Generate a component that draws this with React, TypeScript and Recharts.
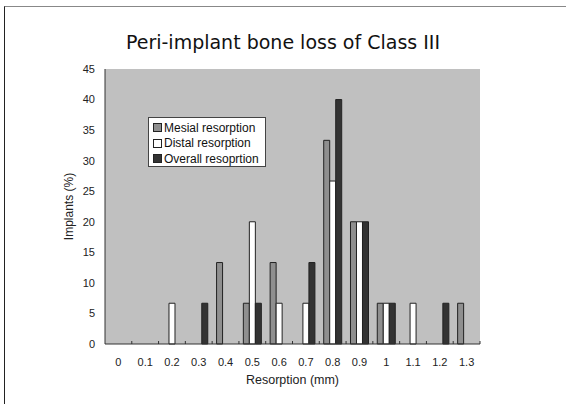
import React from 'react';
import { BarChart, Bar, XAxis, YAxis, CartesianGrid, Legend } from 'recharts';

const categories = ['0', '0.1', '0.2', '0.3', '0.4', '0.5', '0.6', '0.7', '0.8', '0.9', '1', '1.1', '1.2', '1.3'];
const mesial = [0, 0, 0, 0, 13.33, 6.67, 13.33, 0, 33.33, 20, 6.67, 0, 0, 6.67];
const distal = [0, 0, 6.67, 0, 0, 20, 6.67, 6.67, 26.67, 20, 6.67, 6.67, 0, 0];
const overall = [0, 0, 0, 6.67, 0, 6.67, 0, 13.33, 40, 20, 6.67, 0, 6.67, 0];
const yTicks = [0, 5, 10, 15, 20, 25, 30, 35, 40, 45];
const seriesNames = ['Mesial resorption', 'Distal resorption', 'Overall resoprtion'];
const title = 'Peri-implant bone loss of Class III';

const data = categories.map((c, i) => ({
  label: c,
  mesial: mesial[i],
  distal: distal[i],
  overall: overall[i],
}));

const FONT = '"Liberation Sans", Arial, sans-serif';

const XTick = (props: any) => {
  const { x, y, payload } = props;
  const half = payload && payload.offset ? payload.offset : 13.4;
  const axisY = y - 14;
  return (
    <g>
      <line x1={x + half} x2={x + half} y1={axisY} y2={axisY - 3} stroke="#333" strokeWidth={1} />
      <text x={x} y={y} dy="0.71em" textAnchor="middle" fontSize={11} fontFamily={FONT} fill="#222">
        {payload.value}
      </text>
    </g>
  );
};

const LegendBox = (props: any) => {
  const items = [...(props.payload || [])].sort(
    (a: any, b: any) => seriesNames.indexOf(a.value) - seriesNames.indexOf(b.value)
  );
  return (
    <div
      style={{
        background: '#fff',
        border: '1px solid #444',
        width: 118,
        height: 50,
        boxSizing: 'border-box',
        padding: '2px 0 0 4px',
        fontFamily: FONT,
        fontSize: 12,
        color: '#111',
        textAlign: 'left',
      }}
    >
      {items.map((p: any) => (
        <div key={p.value} style={{ display: 'flex', alignItems: 'center', height: 15.5, whiteSpace: 'nowrap' }}>
          <span
            style={{
              display: 'inline-block',
              width: 7,
              height: 7,
              background: p.color,
              border: '1px solid #222',
              marginRight: 2,
            }}
          />
          <span>{p.value}</span>
        </div>
      ))}
    </div>
  );
};

export default function App() {
  return (
    <div style={{ position: 'absolute', left: 0, top: 0, width: 566, height: 404, background: '#fff', overflow: 'hidden' }}>
      <div
        style={{
          position: 'absolute',
          left: 4,
          top: 6,
          width: 562,
          height: 398,
          boxSizing: 'border-box',
          borderTop: '1px solid #888',
          borderLeft: '1px solid #222',
        }}
      />
      <div
        style={{
          position: 'absolute',
          left: 0,
          top: 33,
          width: 566,
          textAlign: 'center',
          fontFamily: '"DejaVu Sans", sans-serif',
          fontSize: 19,
          lineHeight: '19px',
          color: '#111',
        }}
      >
        {title}
      </div>
      <div style={{ position: 'absolute', left: 0, top: 0 }}>
        <BarChart
          width={566}
          height={404}
          data={data}
          margin={{ top: 69, right: 86, bottom: 20, left: 65 }}
          barCategoryGap="16.5%"
          barGap={0}
        >
          <CartesianGrid horizontal={false} vertical={false} fill="#c0c0c0" stroke="none" />
          <XAxis
            dataKey="label"
            height={40}
            tick={<XTick />}
            tickLine={false}
            tickMargin={8}
            interval={0}
            axisLine={{ stroke: '#333' }}
            label={{
              value: 'Resorption (mm)',
              position: 'insideBottom',
              offset: 0,
              fontSize: 12.5,
              fontFamily: FONT,
              fill: '#222',
            }}
          />
          <XAxis xAxisId="top" orientation="top" dataKey="label" height={0} tick={false} tickLine={false} axisLine={{ stroke: '#888' }} />
          <YAxis
            domain={[0, 45]}
            ticks={yTicks}
            width={40}
            tickLine={false}
            tickMargin={4}
            interval={0}
            axisLine={{ stroke: '#333' }}
            tick={{ fontSize: 11, fontFamily: FONT, fill: '#222' }}
            label={{
              value: 'Implants (%)',
              angle: -90,
              position: 'insideLeft',
              offset: 4,
              fontSize: 12,
              fontFamily: FONT,
              fill: '#222',
              style: { textAnchor: 'middle' },
            }}
          />
          <YAxis yAxisId="right" orientation="right" width={0} tick={false} tickLine={false} axisLine={{ stroke: '#888' }} />
          <Legend
            layout="vertical"
            align="center"
            verticalAlign="middle"
            content={<LegendBox />}
            wrapperStyle={{ left: 148, top: 117, width: 118, height: 50 }}
          />
          <Bar dataKey="mesial" name={seriesNames[0]} fill="#8f8f8f" stroke="#222" strokeWidth={1} isAnimationActive={false} />
          <Bar dataKey="distal" name={seriesNames[1]} fill="#ffffff" stroke="#222" strokeWidth={1} isAnimationActive={false} />
          <Bar dataKey="overall" name={seriesNames[2]} fill="#333333" stroke="#222" strokeWidth={1} isAnimationActive={false} />
        </BarChart>
      </div>
    </div>
  );
}
